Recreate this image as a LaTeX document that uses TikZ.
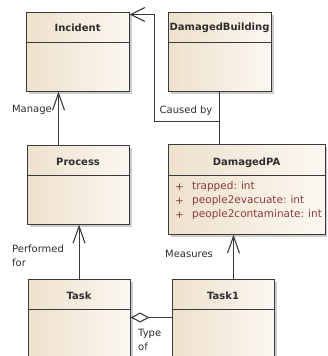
\documentclass[tikz,border=0pt]{standalone}
\usepackage{fontspec}
\setmainfont{DejaVu Sans}
\usetikzlibrary{arrows.meta,shadows,calc}
\definecolor{boxline}{HTML}{3A3A3A}
\definecolor{fillA}{HTML}{EEE1CD}
\definecolor{fillB}{HTML}{FBF7F1}
\definecolor{attrc}{HTML}{8E3B3B}
\definecolor{txt}{HTML}{2E2E2E}
\begin{document}
\begin{tikzpicture}[x=1pt,y=-1pt,
  umlbox/.style={draw=boxline, line width=1.1pt, rectangle, left color=fillA, right color=fillB,
     inner sep=0pt, anchor=north west,
     drop shadow={shadow xshift=2.5pt, shadow yshift=-2.5pt, fill=black!40, opacity=0.5}},
  divider/.style={draw=boxline, line width=1.1pt},
  boxtitle/.style={font=\fontsize{10}{12}\selectfont\bfseries, text=txt, inner sep=0pt},
  lbl/.style={font=\fontsize{10}{14}\selectfont, text=txt, inner sep=0pt, align=left},
  attrtext/.style={font=\fontsize{10.5}{12}\selectfont, text=attrc, inner sep=0pt, anchor=west},
  conn/.style={draw=boxline, line width=1.1pt},
  varr/.style={-{Straight Barb[length=17pt,width=12pt,line width=1.1pt]}},
  harr/.style={-{Straight Barb[length=14pt,width=14pt,line width=1.1pt]}}
]
\useasboundingbox (0,0) rectangle (327,356);
\begin{scope}
\clip (0,0) rectangle (327,356);

% boxes
\node[umlbox, minimum width=103pt, minimum height=79pt] (incident) at (25.5,11.5) {};
\node[umlbox, minimum width=103pt, minimum height=79pt] (db) at (167.5,11.5) {};
\node[umlbox, minimum width=102pt, minimum height=79pt] (process) at (26.5,144.5) {};
\node[umlbox, minimum width=157pt, minimum height=90pt] (dpa) at (167.5,143.5) {};
\node[umlbox, minimum width=102pt, minimum height=100pt] (task) at (27.5,278.5) {};
\node[umlbox, minimum width=102pt, minimum height=100pt] (task1) at (171.5,278.5) {};

% dividers
\draw[divider] ($(incident.north west)+(0,31)$) -- ($(incident.north east)+(0,31)$);
\draw[divider] ($(db.north west)+(0,31)$) -- ($(db.north east)+(0,31)$);
\draw[divider] ($(process.north west)+(0,31)$) -- ($(process.north east)+(0,31)$);
\draw[divider] ($(dpa.north west)+(0,32)$) -- ($(dpa.north east)+(0,32)$);
\draw[divider] ($(task.north west)+(0,31)$) -- ($(task.north east)+(0,31)$);
\draw[divider] ($(task1.north west)+(0,31)$) -- ($(task1.north east)+(0,31)$);

% titles
\node[boxtitle] (incidentT) at ($(incident.north)+(0,16)$) {Incident};
\node[boxtitle] (dbT) at ($(db.north)+(0,16)$) {DamagedBuilding};
\node[boxtitle] (processT) at ($(process.north)+(0,17)$) {Process};
\node[boxtitle] (dpaT) at ($(dpa.north)+(0,19)$) {DamagedPA};
\node[boxtitle] (taskT) at ($(task.north)+(0,17)$) {Task};
\node[boxtitle] (task1T) at ($(task1.north)+(0,17)$) {Task1};

% attributes
\node[attrtext] (p1) at (175,187) {+};
\node[attrtext] (p2) at (175,201) {+};
\node[attrtext] (p3) at (175,215) {+};
\node[attrtext] (a1) at (192,187) {trapped:\hspace{4pt}int};
\node[attrtext] (a2) at (192,201) {people2evacuate:\hspace{4pt}int};
\node[attrtext] (a3) at (192,215) {people2contaminate:\hspace{4pt}int};

% connectors
\coordinate (m1) at ($(process.north west)+(32,0)$);
\draw[conn, varr] (m1) -- (m1 |- incident.south);
\draw[conn, varr] (task.north) -- (task.north |- process.south);
\coordinate (m3) at ($(task1.north west)+(62,0)$);
\draw[conn, varr] (m3) -- (m3 |- dpa.south);
\draw[conn] (db.south) -- (db.south |- dpa.north);
\coordinate (cb1) at (154.5,121.5);
\coordinate (cb2) at (154.5,14.5);
\draw[conn, harr] (db.south |- dpa.north) |- (cb1) -- (cb2) -- (cb2 -| incident.east);
\coordinate (dm) at (0,317.5);
\draw[conn, {Diamond[length=19pt,width=10pt,fill=white,line width=1.1pt]}-] (task.east |- dm) -- (task1.west |- dm);

% labels
\node[lbl, anchor=east] (lmanage) at (52,110) {Manage};
\node[lbl] (lcaused) at (186,111) {Caused by};
\node[lbl, anchor=west] (lperf) at (12,256) {Performed\\for};
\node[lbl] (lmeas) at (189,254) {Measures};
\node[lbl, anchor=west] (ltype) at (138,340) {Type\\of};
\end{scope}
\end{tikzpicture}
\end{document}
